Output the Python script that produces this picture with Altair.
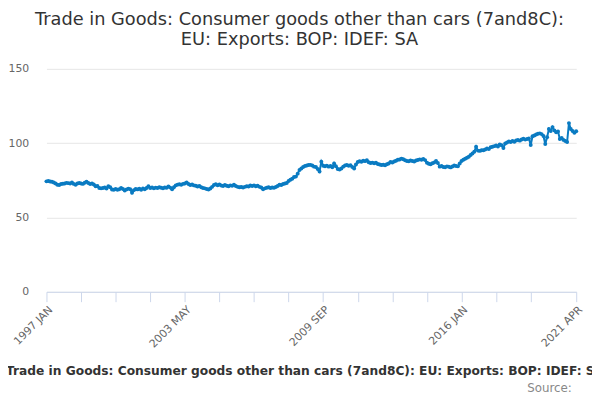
import altair as alt
import pandas as pd

BLUE = "#0a7bc2"
SERIES = "Trade in Goods: Consumer goods other than cars (7and8C): EU: Exports: BOP: IDEF: SA"

# monthly values
y1997 = [74.3, 74.5, 74.2, 74.0, 73.6, 72.8, 72.0, 71.8, 72.5, 72.7, 72.9, 73.3]
y1998 = [73.1, 72.8, 73.5, 72.6, 72.0, 72.9, 73.2, 72.8, 72.6, 73.4, 74.0, 73.2]
y1999 = [72.5, 72.8, 72.2, 71.0, 71.2, 69.9, 69.6, 69.8, 70.2, 69.5, 71.0, 70.3]
y2000 = [68.8, 68.6, 69.1, 68.7, 69.0, 69.8, 69.2, 68.2, 68.9, 69.4, 69.0, 66.6]
y2001 = [68.4, 69.2, 68.9, 69.3, 68.7, 69.5, 69.0, 69.8, 71.0, 69.9, 70.2, 69.6]
y2002 = [70.1, 69.8, 70.3, 70.0, 69.7, 70.2, 70.0, 70.8, 70.1, 69.0, 70.4, 71.6]
y2003 = [72.1, 72.4, 72.0, 72.6, 72.8, 73.5, 72.5, 71.9, 72.2, 71.6, 71.3, 70.9]
y2004 = [71.2, 70.3, 69.8, 69.6, 69.2, 68.8, 69.5, 70.6, 71.8, 72.4, 71.7, 72.2]
y2005 = [71.5, 71.2, 71.8, 71.4, 71.0, 71.6, 71.3, 72.0, 71.2, 70.6, 70.3, 70.5]
y2006 = [70.2, 70.6, 71.0, 70.8, 71.5, 71.2, 71.6, 71.0, 71.3, 70.6, 70.2, 69.0]
y2007 = [69.6, 70.0, 70.3, 69.8, 70.2, 70.0, 70.5, 71.2, 72.0, 71.8, 72.5, 72.9]
y2008 = [73.2, 74.6, 75.4, 76.0, 77.2, 77.5, 79.5, 82.0, 83.0, 84.0, 84.6, 85.0]
y2009 = [85.3, 85.4, 85.0, 84.2, 84.0, 82.6, 81.0, 87.5, 84.8, 84.5, 84.9, 84.2]
y2010 = [84.6, 83.8, 86.4, 84.5, 82.6, 82.3, 83.0, 84.2, 85.0, 85.3, 84.8, 85.2]
y2011 = [84.0, 83.0, 85.6, 87.3, 87.8, 87.5, 88.2, 87.9, 88.5, 87.2, 86.6, 86.9]
y2012 = [86.5, 86.8, 86.0, 85.6, 85.3, 85.5, 85.2, 85.8, 86.3, 87.4, 87.0, 87.6]
y2013 = [88.2, 88.8, 89.0, 89.6, 89.2, 88.5, 88.0, 87.8, 88.3, 88.0, 87.6, 88.4]
y2014 = [88.7, 89.1, 88.8, 89.3, 88.6, 86.8, 86.2, 85.8, 86.5, 87.0, 88.0, 86.6]
y2015 = [84.2, 84.6, 84.0, 83.8, 84.4, 84.1, 83.7, 84.3, 85.0, 84.6, 84.4, 86.3]
y2016 = [88.0, 88.8, 89.5, 90.2, 90.8, 92.0, 93.0, 94.2, 97.6, 95.0, 94.8, 95.2]
y2017 = [95.2, 95.8, 96.4, 96.0, 97.2, 97.6, 98.0, 98.4, 97.8, 99.2, 98.6, 96.8]
y2018 = [99.8, 100.5, 101.2, 100.8, 101.5, 101.0, 101.8, 102.2, 101.7, 102.5, 103.0, 102.4]
y2019 = [102.8, 103.2, 98.8, 104.6, 105.2, 105.8, 106.3, 106.6, 106.1, 104.8, 99.4, 104.0]
y2020 = [109.5, 108.2, 110.8, 108.6, 107.4, 107.9, 102.8, 103.5, 102.2, 101.5, 100.8, 113.5]
y2021 = [109.5, 108.2, 107.0, 108.0]

values = (y1997 + y1998 + y1999 + y2000 + y2001 + y2002 + y2003 + y2004 + y2005
          + y2006 + y2007 + y2008 + y2009 + y2010 + y2011 + y2012 + y2013 + y2014
          + y2015 + y2016 + y2017 + y2018 + y2019 + y2020 + y2021)

months = pd.date_range("1997-01-01", periods=len(values), freq="MS")
periods = [d.strftime("%Y %b").upper() for d in months]

df = pd.DataFrame({
    "idx": range(len(values)),
    "period": periods,
    "value": values,
    "series": SERIES,
})

# ticks every 19 months, labels on every fourth one, plus the last month
tick_vals = list(range(0, 267, 19)) + [len(values) - 1]
label_at = [0, 76, 152, 228, len(values) - 1]
label_expr = " : ".join(
    f"datum.value == {i} ? '{periods[i]}'" for i in label_at
) + " : ''"

chart = alt.Chart(df).mark_line(
    color=BLUE, strokeWidth=2,
    point=alt.OverlayMarkDef(filled=True, size=16, color=BLUE),
).encode(
    x=alt.X("idx:Q",
            scale=alt.Scale(domain=[0, len(values) - 1], nice=False, zero=False),
            axis=alt.Axis(values=tick_vals, labelExpr=label_expr, labelAngle=-45,
                          labelOverlap=False, labelFlush=False,
                          labelFontSize=11, labelColor="#666666", labelPadding=2,
                          domainColor="#ccd6eb", tickColor="#ccd6eb", tickSize=10,
                          grid=False, title="Source:", titleX=532, titleY=101,
                          titleAlign="right", titleBaseline="alphabetic",
                          titleFontSize=12, titleFontWeight="normal",
                          titleColor="#888888")),
    y=alt.Y("value:Q",
            scale=alt.Scale(domain=[0, 150]),
            axis=alt.Axis(values=[0, 50, 100, 150], domain=False, ticks=False,
                          gridColor="#e6e6e6", labelFontSize=11,
                          labelColor="#666666", labelPadding=18, title=None)),
    color=alt.Color("series:N", scale=alt.Scale(range=[BLUE]),
                    legend=alt.Legend(orient="none", legendX=-62, legendY=298,
                                      title=None, symbolType="stroke",
                                      symbolStrokeWidth=2, symbolSize=200,
                                      labelFontSize=12.4, labelFontWeight="bold",
                                      labelColor="#333333", labelLimit=1000,
                                      padding=0)),
).properties(
    width=537,
    height=226,
    autosize=alt.AutoSizeParams(type="none"),
    padding={"left": 39, "top": 59, "right": 16, "bottom": 107},
    title=alt.TitleParams(
        text=["Trade in Goods: Consumer goods other than cars (7and8C):",
              "EU: Exports: BOP: IDEF: SA"],
        fontSize=18, fontWeight="normal", color="#333333",
        anchor="middle", dx=-12, offset=14, lineHeight=20),
).configure(
    font="DejaVu Sans",
).configure_view(
    stroke=None,
)

chart.save("out.html", embed_options={"renderer": "svg", "actions": False})
